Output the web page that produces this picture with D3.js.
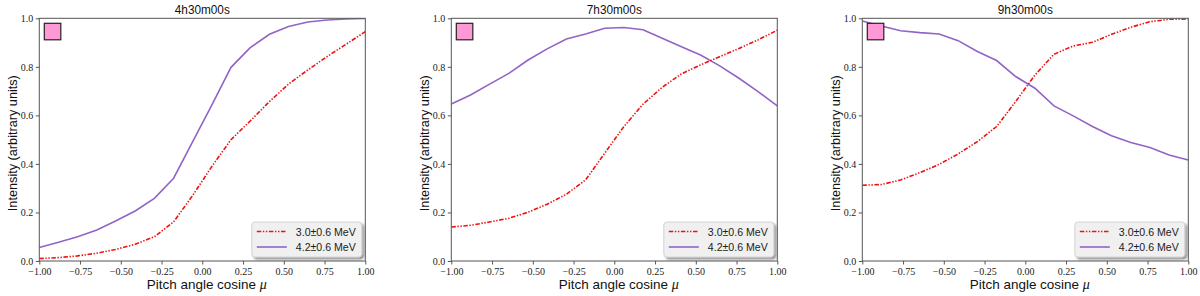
<!DOCTYPE html>
<html>
<head>
<meta charset="utf-8">
<script src="https://cdn.jsdelivr.net/npm/d3@7"></script>
<style>
  html, body { margin: 0; padding: 0; background: #fff; }
  svg { display: block; }
</style>
</head>
<body>
<div id="chart"></div>
<script>
(function () {
  // pitch angle cosine grid (18 bins)
  const MU = [-1.000, -0.882, -0.765, -0.647, -0.529, -0.412, -0.294, -0.176, -0.059,
               0.059,  0.176,  0.294,  0.412,  0.529,  0.647,  0.765,  0.882,  1.000];

  const TITLES = ["4h30m00s", "7h30m00s", "9h30m00s"];
  const SERIES_NAMES = ["3.0\u00b10.6 MeV", "4.2\u00b10.6 MeV"];

  const X_TICKS = [-1.00, -0.75, -0.50, -0.25, 0.00, 0.25, 0.50, 0.75, 1.00];
  const Y_TICKS = [0.0, 0.2, 0.4, 0.6, 0.8, 1.0];

  // 3.0 MeV channel, one array per panel
  const LOW_T1 = [0.010, 0.014, 0.021, 0.032, 0.048, 0.069, 0.100, 0.161, 0.270,
                  0.390, 0.500, 0.577, 0.657, 0.729, 0.787, 0.842, 0.893, 0.945];
  const LOW_T2 = [0.140, 0.147, 0.161, 0.176, 0.201, 0.234, 0.275, 0.334, 0.444,
                  0.554, 0.646, 0.716, 0.771, 0.808, 0.842, 0.876, 0.911, 0.951];
  const LOW_T3 = [0.312, 0.315, 0.334, 0.364, 0.398, 0.441, 0.492, 0.554, 0.657,
                  0.766, 0.852, 0.886, 0.901, 0.934, 0.963, 0.986, 0.996, 0.997];

  // 4.2 MeV channel
  const HIGH_T1 = [0.056, 0.077, 0.100, 0.128, 0.166, 0.206, 0.258, 0.341, 0.492,
                   0.643, 0.798, 0.879, 0.934, 0.966, 0.985, 0.993, 0.997, 0.999];
  const HIGH_T2 = [0.647, 0.684, 0.729, 0.773, 0.828, 0.874, 0.915, 0.935, 0.959,
                   0.962, 0.953, 0.918, 0.883, 0.849, 0.804, 0.753, 0.698, 0.639];
  const HIGH_T3 = [0.989, 0.968, 0.949, 0.941, 0.935, 0.908, 0.863, 0.826, 0.760,
                   0.712, 0.639, 0.598, 0.554, 0.516, 0.488, 0.468, 0.437, 0.416];

  const panels = [
    { title: TITLES[0], low: LOW_T1, high: HIGH_T1 },
    { title: TITLES[1], low: LOW_T2, high: HIGH_T2 },
    { title: TITLES[2], low: LOW_T3, high: HIGH_T3 }
  ];

  const W = 1200, H = 296;
  const plotLefts = [39.3, 451.3, 862.3];
  const plotW = 326;
  const top = 18.3, bottom = 261;

  const RED = "#ee1111";
  const PURPLE = "#9164c6";
  const DASH = "4.5,1.6,1.4,1.6,1.4,1.6";
  const TICK_FONT = "'Liberation Serif', 'DejaVu Serif', serif";
  const SANS = "'Liberation Sans', Arial, sans-serif";

  const svg = d3.select("#chart").append("svg")
    .attr("width", W)
    .attr("height", H);

  const defs = svg.append("defs");
  const shadow = defs.append("filter").attr("id", "legShadow")
    .attr("x", "-10%").attr("y", "-10%").attr("width", "130%").attr("height", "140%");
  shadow.append("feOffset").attr("in", "SourceAlpha").attr("dx", 2).attr("dy", 2).attr("result", "off");
  shadow.append("feGaussianBlur").attr("in", "off").attr("stdDeviation", 0.8).attr("result", "blur");
  shadow.append("feComponentTransfer").attr("in", "blur").attr("result", "sh")
    .append("feFuncA").attr("type", "linear").attr("slope", 0.45);
  const merge = shadow.append("feMerge");
  merge.append("feMergeNode").attr("in", "sh");
  merge.append("feMergeNode").attr("in", "SourceGraphic");

  panels.forEach((p, idx) => {
    const left = plotLefts[idx];
    const x = d3.scaleLinear().domain([-1, 1]).range([left, left + plotW]);
    const y = d3.scaleLinear().domain([0, 1]).range([bottom, top]);

    const g = svg.append("g");

    // title
    g.append("text")
      .attr("x", left + plotW / 2)
      .attr("y", 13.5)
      .attr("text-anchor", "middle")
      .attr("font-family", SANS)
      .attr("font-size", 12)
      .attr("fill", "#111")
      .attr("textLength", 55)
      .attr("lengthAdjust", "spacingAndGlyphs")
      .text(p.title);

    // axes
    const gx = g.append("g")
      .attr("transform", `translate(0,${bottom})`)
      .call(d3.axisBottom(x).tickValues(X_TICKS).tickFormat(d3.format(".2f")).tickSizeOuter(0).tickSize(3.5).tickPadding(3));
    const gy = g.append("g")
      .attr("transform", `translate(${left},0)`)
      .call(d3.axisLeft(y).tickValues(Y_TICKS).tickFormat(d3.format(".1f")).tickSizeOuter(0).tickSize(3.5).tickPadding(2.5));

    [gx, gy].forEach(a => {
      a.select(".domain").remove();
      a.selectAll("line").attr("stroke", "#444").attr("stroke-width", 0.9);
      a.selectAll("text")
        .attr("font-family", TICK_FONT)
        .attr("font-size", 10)
        .attr("fill", "#222")
        .text(function () { return this.textContent.replace("-", "\u2212"); });
    });

    // axis labels
    const xl = g.append("text")
      .attr("x", left + plotW / 2 + 4.5)
      .attr("y", 288.5)
      .attr("text-anchor", "middle")
      .attr("font-family", SANS)
      .attr("font-size", 13.5)
      .attr("fill", "#111");
    xl.append("tspan")
      .attr("textLength", 113)
      .attr("lengthAdjust", "spacingAndGlyphs")
      .text("Pitch angle cosine ");
    xl.append("tspan").attr("font-family", TICK_FONT).attr("font-style", "italic").attr("font-size", 14).text("\u03bc");

    g.append("text")
      .attr("transform", `translate(${left - 22.5},${(top + bottom) / 2 + 3.5}) rotate(-90)`)
      .attr("text-anchor", "middle")
      .attr("font-family", SANS)
      .attr("font-size", 13)
      .attr("fill", "#111")
      .attr("textLength", 136)
      .attr("lengthAdjust", "spacingAndGlyphs")
      .text("Intensity (arbitrary units)");

    // lines
    const clipId = "clip" + idx;
    defs.append("clipPath").attr("id", clipId)
      .append("rect").attr("x", left).attr("y", top).attr("width", plotW).attr("height", bottom - top);

    const line = d3.line().x((d, i) => x(MU[i])).y(d => y(d));
    const lines = g.append("g").attr("clip-path", `url(#${clipId})`);

    lines.append("path")
      .datum(p.high)
      .attr("d", line)
      .attr("fill", "none")
      .attr("stroke", PURPLE)
      .attr("stroke-width", 1.6);

    lines.append("path")
      .datum(p.low)
      .attr("d", line)
      .attr("fill", "none")
      .attr("stroke", RED)
      .attr("stroke-width", 1.6)
      .attr("stroke-dasharray", DASH);

    // frame
    g.append("rect")
      .attr("x", left).attr("y", top)
      .attr("width", plotW).attr("height", bottom - top)
      .attr("fill", "none")
      .attr("stroke", "#555")
      .attr("stroke-width", 1);

    // pink marker square
    g.append("rect")
      .attr("x", left + 5).attr("y", top + 5)
      .attr("width", 16.5).attr("height", 16.5)
      .attr("fill", "#ff99d6")
      .attr("stroke", "#222")
      .attr("stroke-width", 1.2);

    // legend
    const lgW = 110, lgH = 35;
    const lg = g.append("g")
      .attr("transform", `translate(${left + plotW - lgW - 3.5},${bottom - lgH - 4})`);
    lg.append("rect")
      .attr("width", lgW).attr("height", lgH)
      .attr("rx", 3)
      .attr("fill", "#f0f0f0")
      .attr("stroke", "#cccccc")
      .attr("stroke-width", 0.8)
      .attr("filter", "url(#legShadow)");

    const items = [
      { name: SERIES_NAMES[0], color: RED, dash: DASH },
      { name: SERIES_NAMES[1], color: PURPLE, dash: null }
    ];
    items.forEach((it, k) => {
      const yy = 9.5 + k * 15.5;
      lg.append("line")
        .attr("x1", 5).attr("x2", 35)
        .attr("y1", yy).attr("y2", yy)
        .attr("stroke", it.color)
        .attr("stroke-width", 1.6)
        .attr("stroke-dasharray", it.dash);
      lg.append("text")
        .attr("x", 44).attr("y", yy + 4)
        .attr("font-family", SANS)
        .attr("font-size", 10.5)
        .attr("fill", "#222")
        .attr("textLength", 60)
        .attr("lengthAdjust", "spacingAndGlyphs")
        .text(it.name);
    });
  });
})();
</script>
</body>
</html>
